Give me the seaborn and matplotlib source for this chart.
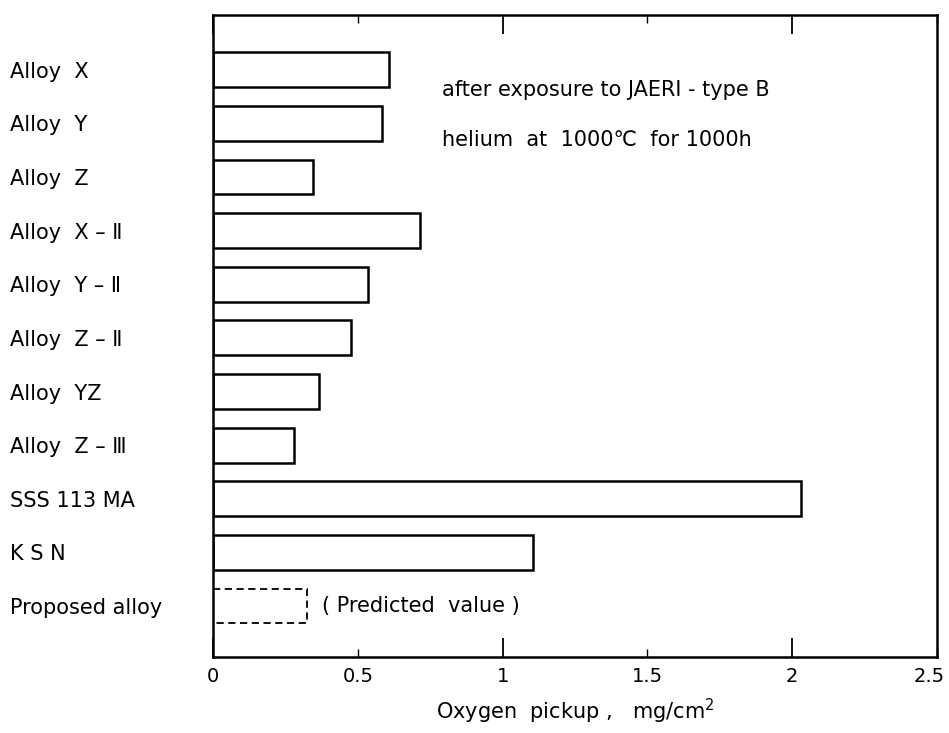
import matplotlib
matplotlib.use("Agg")
import matplotlib.pyplot as plt
import matplotlib.transforms as mtransforms
import seaborn as sns
import pandas as pd

categories = ["Alloy  X", "Alloy  Y", "Alloy  Z", "Alloy  X – Ⅱ", "Alloy  Y – Ⅱ",
              "Alloy  Z – Ⅱ", "Alloy  YZ", "Alloy  Z – Ⅲ", "SSS 113 MA", "K S N",
              "Proposed alloy"]
values = [0.608, 0.584, 0.345, 0.715, 0.535, 0.477, 0.366, 0.280, 2.03, 1.105, 0.325]
major_ticks = [0, 1, 2]
major_labels = ["0", "1", "2"]
minor_ticks = [0.5, 1.5, 2.5]
minor_labels = ["0.5", "1.5", "2.5"]

sns.set_theme(style="white")
plt.rcParams["font.family"] = ["DejaVu Sans"]
plt.rcParams["text.color"] = "black"
plt.rcParams["axes.labelcolor"] = "black"
plt.rcParams["xtick.color"] = "black"
plt.rcParams["ytick.color"] = "black"

df = pd.DataFrame({"name": categories, "val": values})

fig = plt.figure(figsize=(9.49, 7.33), dpi=100)
ax = fig.add_axes([0.2244, 0.1037, 0.9874 - 0.2244, 0.9795 - 0.1037])

sns.barplot(data=df, y="name", x="val", orient="h", fill=False, color="black",
            width=0.65, linewidth=1.8, edgecolor="black",
            errorbar=None, ax=ax)
patches = ax.patches
patches[-1].set_linestyle((0, (4, 2.5)))
patches[-1].set_linewidth(1.3)

ax.set_xlim(0, 2.5)
ax.set_ylim(10.95, -1.02)
ax.set_xticks(major_ticks)
ax.set_xticklabels(major_labels, fontsize=14)
ax.set_xticks(minor_ticks, minor=True)
ax.set_xticklabels(minor_labels, minor=True, fontsize=14)
ax.tick_params(axis="x", which="major", direction="in", length=14, width=1.3,
               top=True, bottom=True, pad=7, colors="black")
ax.tick_params(axis="x", which="minor", direction="in", length=6, width=1.0,
               top=True, bottom=True, pad=7, colors="black")
offset = mtransforms.ScaledTranslation(-6 / 72, 0, fig.dpi_scale_trans)
for lab in ax.xaxis.get_minorticklabels():
    if lab.get_text() == "2.5":
        lab.set_transform(lab.get_transform() + offset)

ax.set_yticks(range(len(categories)))
ax.set_yticklabels(categories, fontsize=15, ha="left")
ax.tick_params(axis="y", length=0, pad=146)
ax.set_ylabel("")
ax.set_xlabel("Oxygen  pickup ,   mg/cm$^2$", fontsize=15, labelpad=8)
for s in ax.spines.values():
    s.set_visible(True)
    s.set_color("black")
    s.set_linewidth(1.8)

ax.text(0.375, 10, "( Predicted  value )", fontsize=15, va="center", ha="left")
ax.text(0.79, 0.38, "after exposure to JAERI - type B", fontsize=15, va="center", ha="left")
ax.text(0.79, 1.31, "helium  at  1000℃  for 1000h", fontsize=15, va="center", ha="left")

fig.savefig("out.png", dpi=100, facecolor="white")
